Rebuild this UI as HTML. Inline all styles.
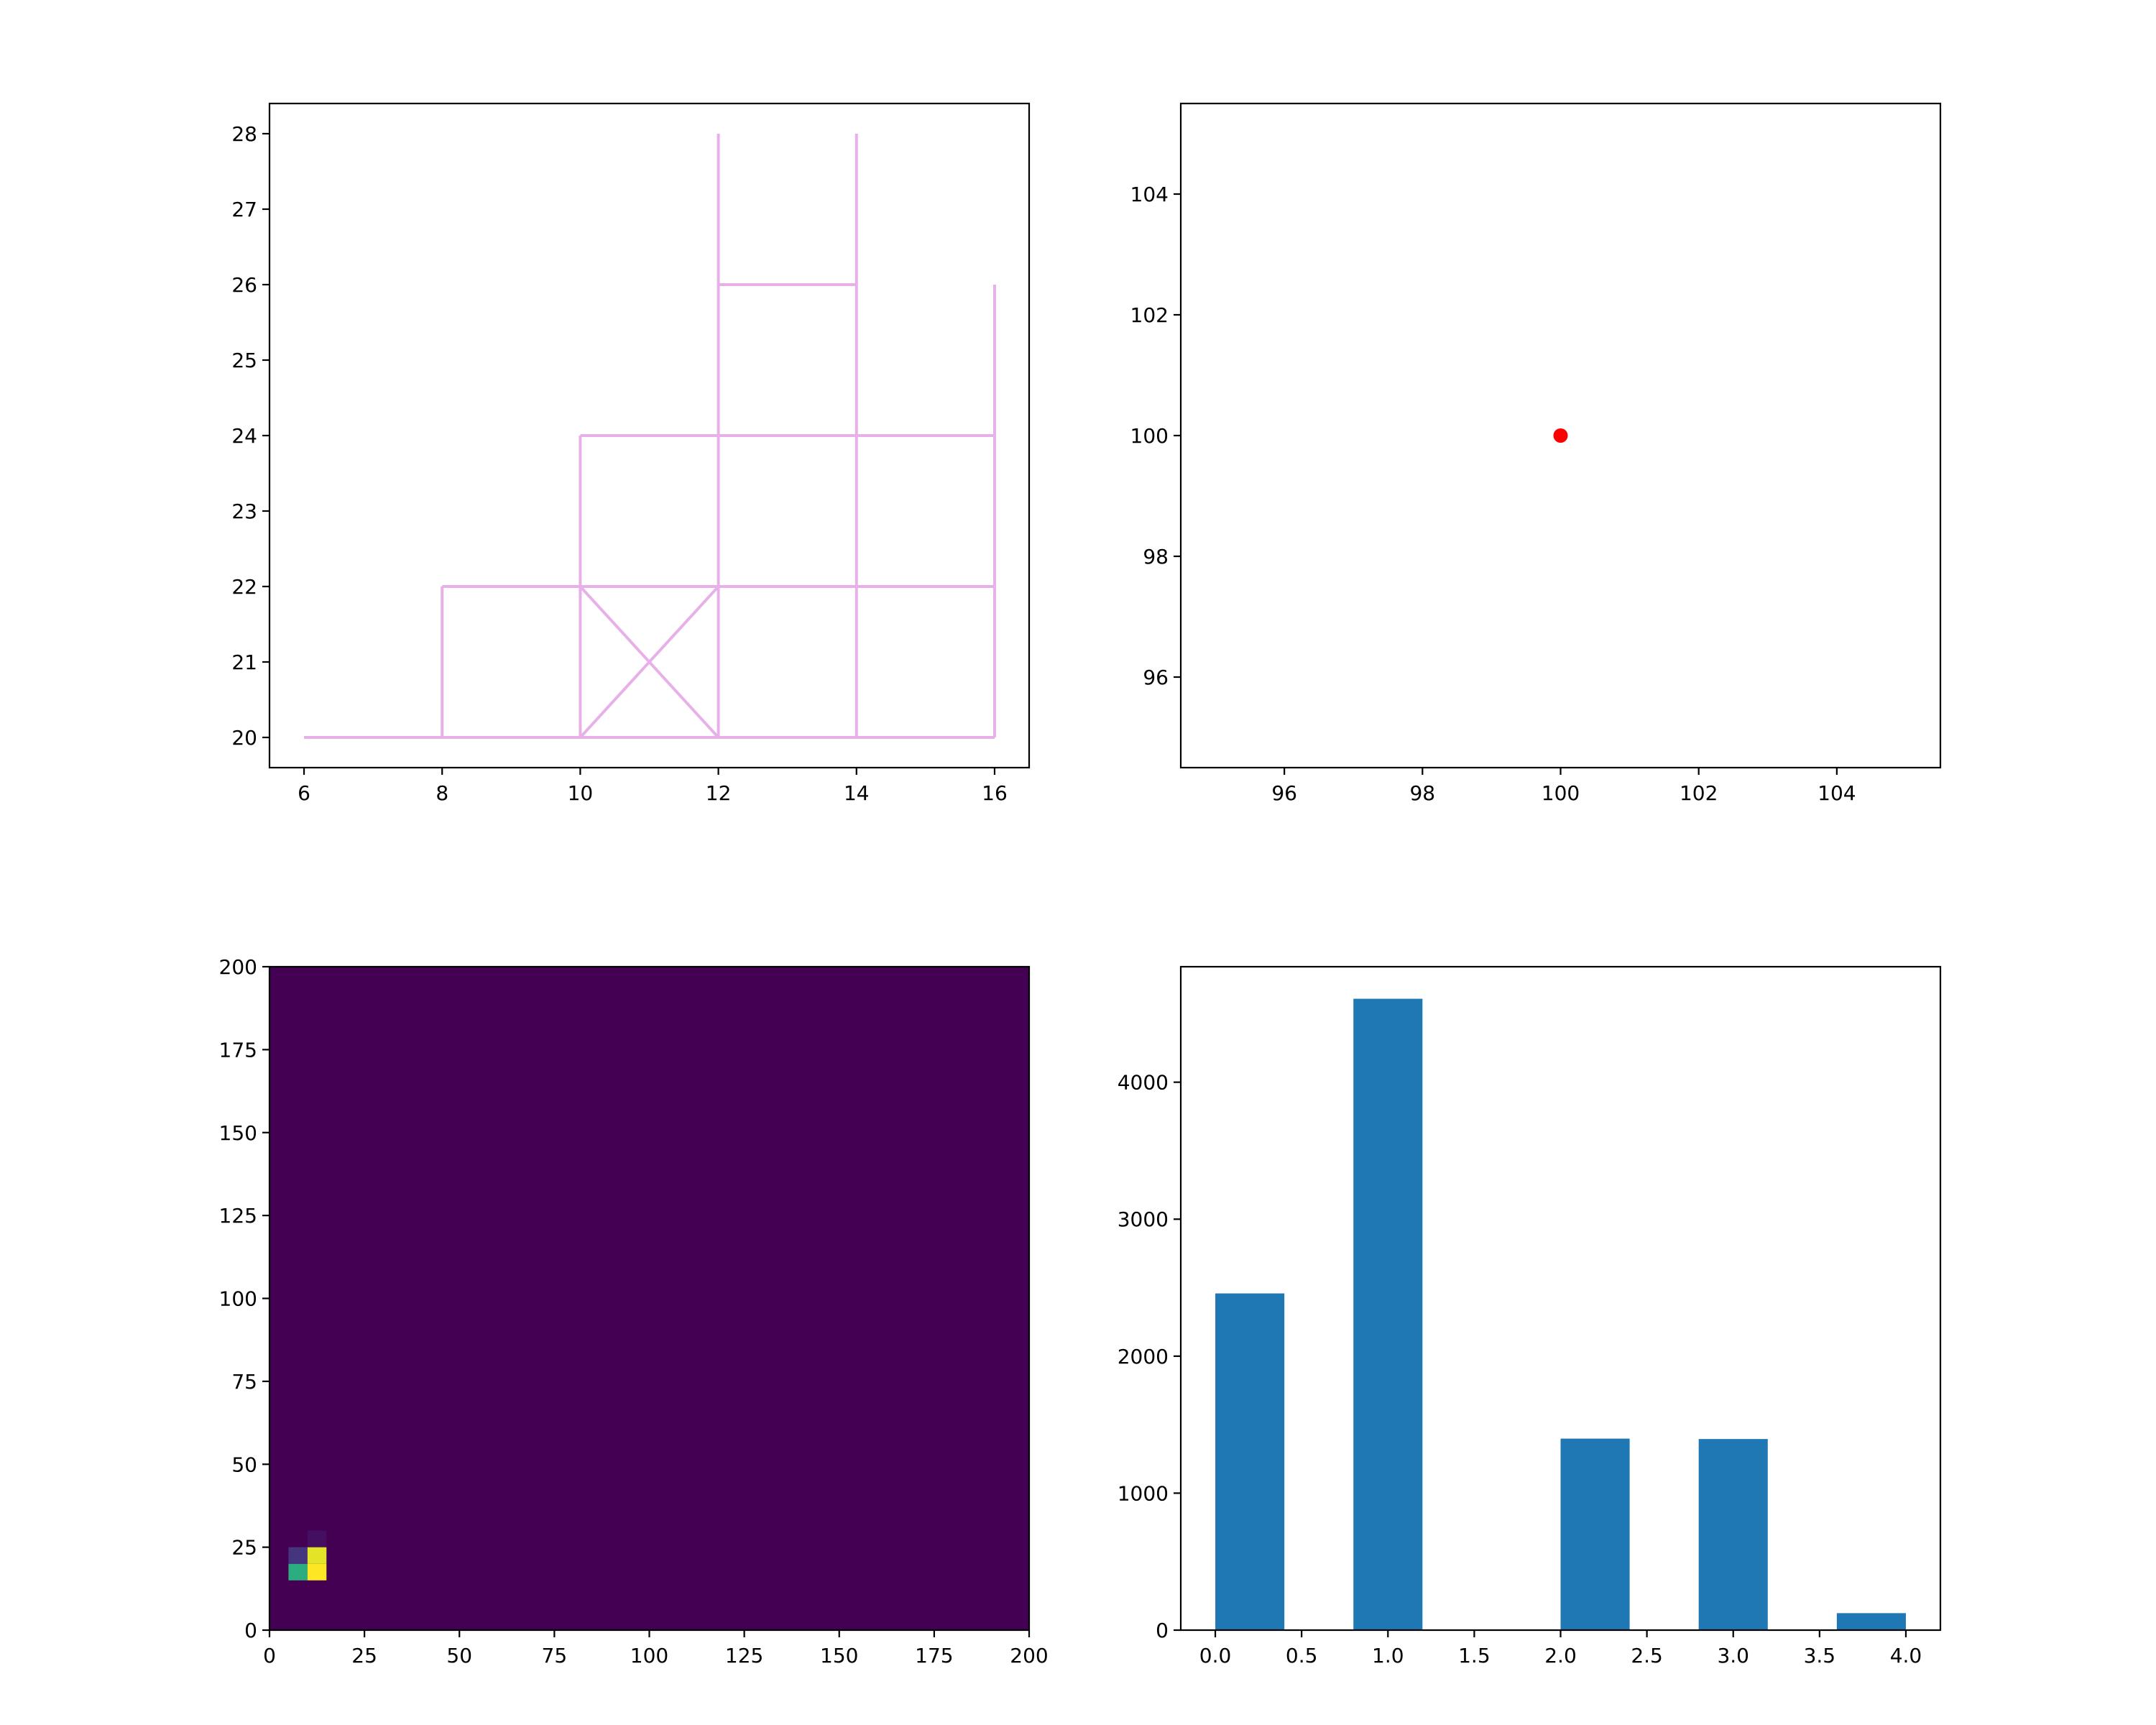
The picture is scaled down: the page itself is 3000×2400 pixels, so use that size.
<!DOCTYPE html>
<html><head><meta charset="utf-8"><style>
html,body{margin:0;padding:0;background:#fff}
svg{display:block}
text{font-family:"DejaVu Sans","Liberation Sans",sans-serif;font-size:28px;fill:#000}
</style></head><body>
<svg id="fig" width="3000" height="2400" viewBox="0 0 3000 2400"></svg>
<script>
// ---- data ----
const lineSegX1 = [6, 8, 8, 14, 10, 10, 12, 14, 16, 12, 10, 10];
const lineSegY1 = [20, 20, 22, 22, 20, 24, 20, 20, 20, 26, 22, 20];
const lineSegX2 = [16, 8, 14, 16, 10, 16, 12, 14, 16, 14, 12, 12];
const lineSegY2 = [20, 22, 22, 22, 24, 24, 28, 28, 26, 26, 20, 22];
const lineXTicks = [6, 8, 10, 12, 14, 16];
const lineYTicks = [20, 21, 22, 23, 24, 25, 26, 27, 28];
const scatterX = [100];
const scatterY = [100];
const scatterTicks = [96, 98, 100, 102, 104];
const heatCellX = [5, 10, 5, 10, 10];
const heatCellY = [15, 15, 20, 20, 25];
const heatCellV = [0.62, 1.0, 0.15, 0.96, 0.04];
const heatTicks = [0, 25, 50, 75, 100, 125, 150, 175, 200];
const histEdges = [0, 0.4, 0.8, 1.2, 1.6, 2.0, 2.4, 2.8, 3.2, 3.6, 4.0];
const histCounts = [2458, 0, 4609, 0, 0, 1398, 0, 1395, 0, 124];
const histXTicks = [0.0, 0.5, 1.0, 1.5, 2.0, 2.5, 3.0, 3.5, 4.0];
const histYTicks = [0, 1000, 2000, 3000, 4000];

const NS = "http://www.w3.org/2000/svg";
const fig = document.getElementById('fig');
function el(tag, attrs, parent) {
  const e = document.createElementNS(NS, tag);
  for (const k in attrs) e.setAttribute(k, attrs[k]);
  (parent || fig).appendChild(e);
  return e;
}
const L1 = 375, R1 = 1432, L2 = 1643, R2 = 2700;
const T1 = 144, B1 = 1068, T2 = 1345, B2 = 2268;

function makeAxes(name, l, r, t, b, xmin, xmax, ymin, ymax) {
  const g = el('g', {});
  
  
  const sx = v => l + (v - xmin) / (xmax - xmin) * (r - l);
  const sy = v => b - (v - ymin) / (ymax - ymin) * (b - t);
  return {g, sx, sy, l, r, t, b};
}
function frame(ax) {
  const f = el('rect', {x: ax.l, y: ax.t, width: ax.r - ax.l, height: ax.b - ax.t, fill: 'none', stroke: '#000', 'stroke-width': 2.2}, ax.g);
  
  
}
function ticks(ax, xt, yt, fmt) {
  xt.forEach(v => {
    const x = ax.sx(v);
    el('line', {x1: x, x2: x, y1: ax.b, y2: ax.b + 10, stroke: '#000', 'stroke-width': 2.2}, ax.g);
    const tx = el('text', {x: x, y: ax.b + 45, 'text-anchor': 'middle'}, ax.g);
    tx.textContent = fmt ? fmt(v) : v;
    
    
  });
  yt.forEach(v => {
    const y = ax.sy(v);
    el('line', {x1: ax.l - 10, x2: ax.l, y1: y, y2: y, stroke: '#000', 'stroke-width': 2.2}, ax.g);
    const ty = el('text', {x: ax.l - 17, y: y + 10, 'text-anchor': 'end'}, ax.g);
    ty.textContent = v;
    
    
  });
}

// ---- line plot ----
const a1 = makeAxes('line-plot', L1, R1, T1, B1, 5.5, 16.5, 19.6, 28.4);
for (let i = 0; i < lineSegX1.length; i++) {
  const s = el('line', {x1: a1.sx(lineSegX1[i]), y1: a1.sy(lineSegY1[i]), x2: a1.sx(lineSegX2[i]), y2: a1.sy(lineSegY2[i]), stroke: '#e8b0e8', 'stroke-width': 4}, a1.g);
  
  
}
frame(a1); ticks(a1, lineXTicks, lineYTicks);

// ---- scatter ----
const a2 = makeAxes('scatter-plot', L2, R2, T1, B1, 94.5, 105.5, 94.5, 105.5);
for (let i = 0; i < scatterX.length; i++) {
  const c = el('circle', {cx: a2.sx(scatterX[i]), cy: a2.sy(scatterY[i]), r: 10, fill: '#ff0000'}, a2.g);
  
  
}
frame(a2); ticks(a2, scatterTicks, scatterTicks);

// ---- heatmap ----
const vir = [[68,1,84],[72,40,120],[62,74,137],[49,104,142],[38,130,142],[31,158,137],[53,183,121],[109,205,89],[180,222,44],[253,231,37]];
function viridis(v) {
  const p = Math.max(0, Math.min(1, v)) * (vir.length - 1);
  const i = Math.min(vir.length - 2, Math.floor(p)), f = p - i;
  const c = vir[i].map((a, k) => Math.round(a + (vir[i + 1][k] - a) * f));
  return 'rgb(' + c.join(',') + ')';
}
const a3 = makeAxes('heatmap', L1, R1, T2, B2, 0, 200, 0, 200);
const bg = el('rect', {x: a3.l, y: a3.t, width: a3.r - a3.l, height: a3.b - a3.t, fill: viridis(0)}, a3.g);


for (let i = 0; i < heatCellX.length; i++) {
  const x0 = a3.sx(heatCellX[i]), x1 = a3.sx(heatCellX[i] + 5);
  const y0 = a3.sy(heatCellY[i] + 5), y1 = a3.sy(heatCellY[i]);
  const c = el('rect', {x: x0, y: y0, width: x1 - x0, height: y1 - y0, fill: viridis(heatCellV[i])}, a3.g);
  
  
}
frame(a3); ticks(a3, heatTicks, heatTicks);

// ---- histogram ----
const a4 = makeAxes('histogram', L2, R2, T2, B2, -0.2, 4.2, 0, 4843);
for (let i = 0; i < histCounts.length; i++) {
  if (!histCounts[i]) continue;
  const x0 = a4.sx(histEdges[i]), x1 = a4.sx(histEdges[i + 1]);
  const y0 = a4.sy(histCounts[i]);
  const b = el('rect', {x: x0, y: y0, width: x1 - x0, height: a4.b - y0, fill: '#1f77b4'}, a4.g);
  
  
}
frame(a4); ticks(a4, histXTicks, histYTicks, v => v.toFixed(1));
</script>
</body></html>
